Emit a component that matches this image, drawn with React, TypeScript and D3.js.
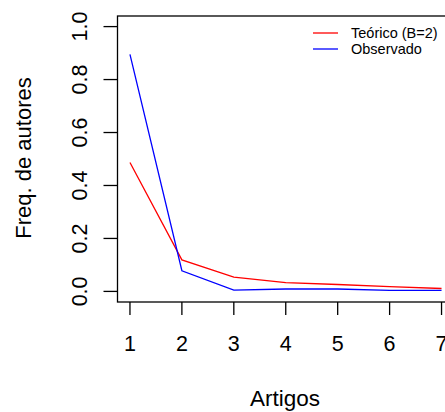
import React from "react";
import * as d3 from "d3";

const artigos = [1, 2, 3, 4, 5, 6, 7];
const teorico = [0.487, 0.119, 0.054, 0.033, 0.026, 0.018, 0.011];
const observado = [0.895, 0.078, 0.005, 0.009, 0.009, 0.004, 0.004];
const yTicks = [0, 0.2, 0.4, 0.6, 0.8, 1.0];
const legendLabels = ["Teórico (B=2)", "Observado"];
const legendColors = ["#ff0000", "#0000ff"];

export default function App() {
  const W = 445, H = 412;
  const left = 117.5, right = 454, top = 16, bottom = 302;
  const x = d3.scaleLinear().domain([0.76, 7.24]).range([left, right]);
  const y = d3.scaleLinear().domain([-0.04, 1.04]).range([bottom, top]);
  const line = d3.line<number>().x((_, i) => x(artigos[i])).y((d) => y(d));
  const font = "'Liberation Sans', Arial, sans-serif";
  return (
    <svg width={W} height={H} style={{ position: "absolute", left: 0, top: 0 }} fontFamily={font}>
      <rect width={W} height={H} fill="#fff" />
      <defs>
        <clipPath id="plot">
          <rect x={left} y={top} width={right - left} height={bottom - top} />
        </clipPath>
      </defs>
      <g clipPath="url(#plot)">
        <path d={line(teorico) || ""} fill="none" stroke="#ff0000" strokeWidth={1.3} />
        <path d={line(observado) || ""} fill="none" stroke="#0000ff" strokeWidth={1.3} />
      </g>
      <rect x={left} y={top} width={right - left} height={bottom - top} fill="none" stroke="#000" strokeWidth={1.3} />
      {artigos.map((a) => (
        <g key={a}>
          <line x1={x(a)} x2={x(a)} y1={bottom} y2={bottom + 13} stroke="#000" strokeWidth={1.3} />
          <text x={x(a)} y={351} textAnchor="middle" fontSize={21.5} fill="#000">{a}</text>
        </g>
      ))}
      {yTicks.map((t) => (
        <g key={t}>
          <line x1={left - 14} x2={left} y1={y(t)} y2={y(t)} stroke="#000" strokeWidth={1.3} />
          <text transform={`translate(${87},${y(t)}) rotate(-90)`} textAnchor="middle" fontSize={21.5} fill="#000">{t.toFixed(1)}</text>
        </g>
      ))}
      <text x={285} y={406} textAnchor="middle" fontSize={22.5} fill="#000">Artigos</text>
      <text transform={`translate(${31},${158}) rotate(-90)`} textAnchor="middle" fontSize={22} fill="#000">Freq. de autores</text>
      {legendLabels.map((l, i) => (
        <g key={l}>
          <line x1={313} x2={338} y1={33 + i * 16} y2={33 + i * 16} stroke={legendColors[i]} strokeWidth={1.3} />
          <text x={351} y={33 + i * 16 + 5} fontSize={14.5} fill="#000">{l}</text>
        </g>
      ))}
    </svg>
  );
}
